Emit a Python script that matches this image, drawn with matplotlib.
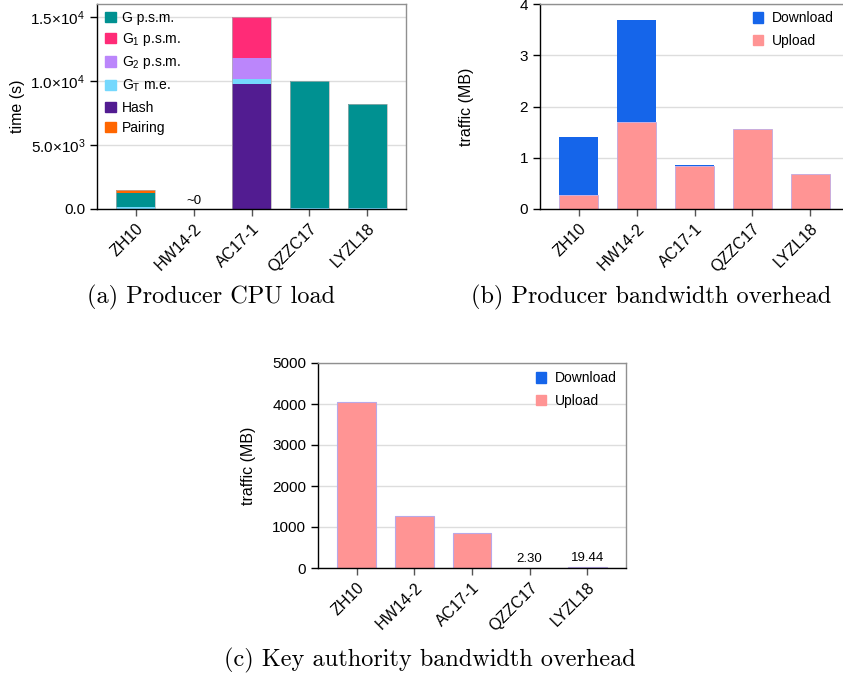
import matplotlib
matplotlib.use("Agg")
import matplotlib.pyplot as plt
import numpy as np
from matplotlib.ticker import FixedLocator
from matplotlib.patches import Patch

plt.rcParams['font.family'] = ['Liberation Sans', 'DejaVu Sans']
plt.rcParams['mathtext.fontset'] = 'custom'
plt.rcParams['mathtext.rm'] = 'Liberation Sans'
plt.rcParams['mathtext.it'] = 'Liberation Sans:italic'

schemes = ["ZH10", "HW14-2", "AC17-1", "QZZC17", "LYZL18"]

# (a) producer CPU load, seconds, stacked bottom->top
cpu_hash = [0, 0, 9720, 0, 0]
cpu_gt = [120, 0, 410, 60, 60]
cpu_g = [1130, 0, 0, 9920, 8100]
cpu_g2 = [0, 0, 1690, 0, 0]
cpu_g1 = [0, 0, 3140, 0, 0]
cpu_pair = [230, 0, 0, 0, 0]

# (b) producer bandwidth, MB
prod_upload = [0.27, 1.70, 0.83, 1.56, 0.68]
prod_download = [1.13, 1.99, 0.03, 0.0, 0.0]

# (c) key authority bandwidth, MB
ka_upload = [4040, 1268, 854, 2.30, 19.44]
ka_download = [0, 0, 0, 0, 0]
ka_labels = ["", "", "", "2.30", "19.44"]

C_G = '#009191'
C_G1 = '#FF2B77'
C_G2 = '#BB86FB'
C_GT = '#75D8FD'
C_HASH = '#521C91'
C_PAIR = '#FF6600'
C_DL = '#1565EA'
C_UL = '#FF9494'

W, H = 843, 674
fig = plt.figure(figsize=(W / 100, H / 100), dpi=100)

def ax_at(l, t, r, b):
    return fig.add_axes([l / W, 1 - b / H, (r - l) / W, (b - t) / H])

def style(ax):
    ax.spines['top'].set_color('#909090')
    ax.spines['right'].set_color('#909090')
    ax.spines['left'].set_color('black')
    ax.spines['bottom'].set_color('black')
    for s in ax.spines.values():
        s.set_linewidth(1.0)
    ax.yaxis.grid(True, color='#dddddd', linewidth=1.0)
    ax.set_axisbelow(True)
    ax.tick_params(axis='both', direction='out', length=5, width=1, labelsize=11, color='#555555')
    ax.tick_params(axis='y', color='black')
    ax.set_xticks(range(len(schemes)))
    ax.set_xticklabels(schemes, rotation=45, ha='right', rotation_mode='anchor', fontsize=11.5)
    ax.set_xlim(-0.67, 4.67)

x = np.arange(len(schemes))
bw = 0.67

# ---- (a)
axa = ax_at(97, 4, 406, 209)
style(axa)
bottom = np.zeros(5)
series_a = [(cpu_hash, C_HASH), (cpu_gt, C_GT), (cpu_g, C_G),
            (cpu_g2, C_G2), (cpu_g1, C_G1), (cpu_pair, C_PAIR)]
for vals, col in series_a:
    v = np.array(vals, dtype=float)
    axa.bar(x, v, bw, bottom=bottom, color=col, edgecolor='none')
    bottom += v
axa.bar(x, bottom, bw, color='none', edgecolor='#b0b0b0', linewidth=0.5)
axa.set_ylim(0, 16000)
axa.yaxis.set_major_locator(FixedLocator([0, 5000, 10000, 15000]))
axa.set_yticklabels(["0.0", r"5.0×10$^3$", r"1.0×10$^4$", r"1.5×10$^4$"])
axa.set_ylabel("time (s)", fontsize=11.5, labelpad=4)
axa.text(1, 120, "~0", ha='center', va='bottom', fontsize=9.5)
handles_a = [Patch(color=C_G), Patch(color=C_G1), Patch(color=C_G2), Patch(color=C_GT),
             Patch(color=C_HASH), Patch(color=C_PAIR)]
labels_a = ["G p.s.m.", r"G$_1$ p.s.m.", r"G$_2$ p.s.m.", r"G$_\mathrm{T}$ m.e.", "Hash", "Pairing"]
axa.legend(handles_a, labels_a, loc='upper left', bbox_to_anchor=(-0.005, 1.015), frameon=False,
           fontsize=10, handlelength=0.75, handleheight=0.75, handletextpad=0.45, labelspacing=0.46,
           borderaxespad=0.3)

# ---- (b)
axb = ax_at(540, 4, 849, 209)
style(axb)
axb.bar(x, prod_upload, bw, color=C_UL, edgecolor='#c0a8e0', linewidth=0.6)
axb.bar(x, prod_download, bw, bottom=prod_upload, color=C_DL, edgecolor='none')
axb.set_ylim(0, 4)
axb.yaxis.set_major_locator(FixedLocator([0, 1, 2, 3, 4]))
axb.set_ylabel("traffic (MB)", fontsize=11.5, labelpad=33)
axb.legend([Patch(color=C_DL), Patch(color=C_UL)], ["Download", "Upload"], loc='upper right',
           bbox_to_anchor=(0.99, 1.025), frameon=False, fontsize=10, handlelength=0.75, handleheight=0.75,
           handletextpad=0.6, labelspacing=0.6)

# ---- (c)
axc = ax_at(318, 363, 626, 568)
style(axc)
axc.bar(x, ka_upload, bw, color=C_UL, edgecolor='#b8a8e8', linewidth=0.8)
axc.bar(x, ka_download, bw, bottom=ka_upload, color=C_DL, edgecolor='none')
axc.set_ylim(0, 5000)
axc.yaxis.set_major_locator(FixedLocator([0, 1000, 2000, 3000, 4000, 5000]))
axc.set_ylabel("traffic (MB)", fontsize=11.5, labelpad=12)
for i, lab in enumerate(ka_labels):
    if lab:
        axc.text(i, ka_upload[i] + 80, lab, ha='center', va='bottom', fontsize=9.5)
axc.legend([Patch(color=C_DL), Patch(color=C_UL)], ["Download", "Upload"], loc='upper right',
           bbox_to_anchor=(1.01, 1.02), frameon=False, fontsize=10, handlelength=0.75, handleheight=0.75,
           handletextpad=0.6, labelspacing=0.6)

# captions
cap_kw = dict(ha='center', va='center', fontsize=17.5, family='cmr10')
fig.text(211 / W, 1 - 297 / H, "(a) Producer CPU load", **cap_kw)
fig.text(651 / W, 1 - 297 / H, "(b) Producer bandwidth overhead", **cap_kw)
fig.text(430 / W, 1 - 660 / H, "(c) Key authority bandwidth overhead", **cap_kw)

fig.savefig("out.png", dpi=100)
